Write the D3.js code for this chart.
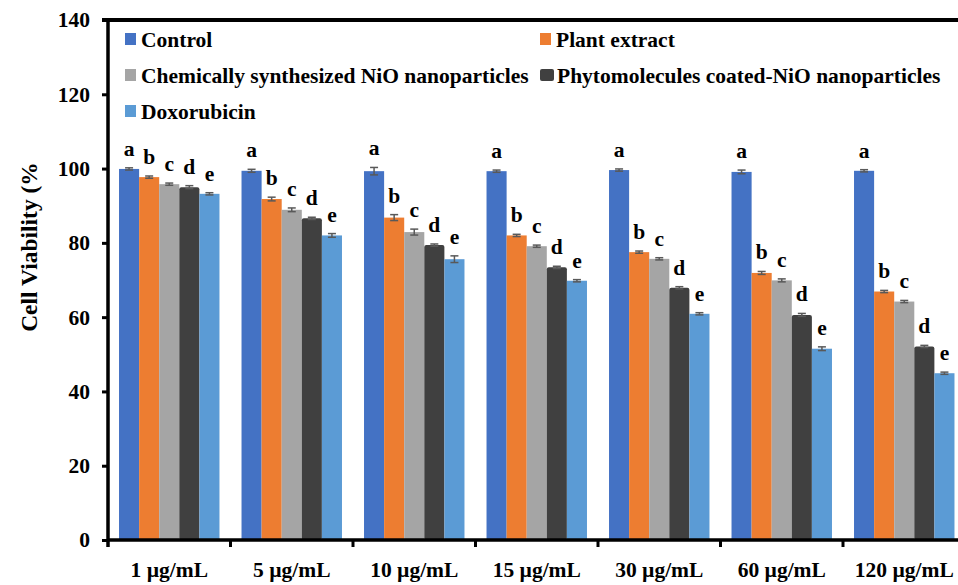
<!DOCTYPE html>
<html>
<head>
<meta charset="utf-8">
<script src="https://cdn.jsdelivr.net/npm/d3@7"></script>
<style>
  body { margin: 0; background: #fff; }
  svg { display: block; }
  text { font-family: "Liberation Serif", "Times New Roman", serif; font-weight: bold; fill: #000; }
</style>
</head>
<body>
<div id="chart"></div>
<script>
const categories = ['1 µg/mL', '5 µg/mL', '10 µg/mL', '15 µg/mL', '30 µg/mL', '60 µg/mL', '120 µg/mL'];
const seriesNames = ['Control', 'Plant extract', 'Chemically synthesized NiO nanoparticles',
  'Phytomolecules coated-NiO nanoparticles', 'Doxorubicin'];
const colors = ['#4472C4', '#ED7D31', '#A5A5A5', '#404040', '#5B9BD5'];
const letters = ['a', 'b', 'c', 'd', 'e'];

// mean viability per series, one value per concentration
const control = [99.9, 99.4, 99.3, 99.3, 99.6, 99.1, 99.4];
const plantExtract = [97.7, 91.8, 86.8, 82.0, 77.5, 71.9, 66.9];
const chemNiO = [95.8, 88.9, 82.9, 79.1, 75.7, 69.9, 64.2];
const phytoNiO = [95.0, 86.6, 79.4, 73.4, 67.9, 60.6, 52.1];
const doxorubicin = [93.2, 82.0, 75.6, 69.8, 60.9, 51.5, 44.9];

// standard deviations
const controlErr = [0.3, 0.4, 1.0, 0.3, 0.3, 0.5, 0.3];
const plantErr = [0.3, 0.5, 0.8, 0.3, 0.3, 0.4, 0.3];
const chemErr = [0.3, 0.5, 0.8, 0.3, 0.3, 0.4, 0.3];
const phytoErr = [0.4, 0.3, 0.3, 0.3, 0.3, 0.4, 0.3];
const doxErr = [0.3, 0.5, 0.9, 0.3, 0.3, 0.5, 0.3];

const yTicks = [0, 20, 40, 60, 80, 100, 120, 140];

const values = [control, plantExtract, chemNiO, phytoNiO, doxorubicin];
const errors = [controlErr, plantErr, chemErr, phytoErr, doxErr];

const width = 958;
const height = 585;
const left = 108;
const step = 122.5;

const svg = d3.select('#chart').append('svg')
  .attr('width', width)
  .attr('height', height);

const x0 = d3.scaleBand()
  .domain(categories)
  .range([left, left + step * categories.length])
  .paddingInner(0.18)
  .paddingOuter(0.09);

const x1 = d3.scaleBand()
  .domain(seriesNames)
  .range([0, x0.bandwidth()]);

const y = d3.scaleLinear()
  .domain([0, 140])
  .range([540, 20]);

// flatten into one record per bar
const rows = [];
categories.forEach((cat, i) => {
  seriesNames.forEach((s, j) => {
    rows.push({ cat, s, j, v: values[j][i], e: errors[j][i] });
  });
});

// Bars
svg.append('g')
  .selectAll('rect')
  .data(rows)
  .join('rect')
  .attr('x', d => x0(d.cat) + x1(d.s))
  .attr('y', d => y(d.v))
  .attr('width', x1.bandwidth())
  .attr('height', d => y(0) - y(d.v))
  .attr('rx', d => d.j === 3 ? 2 : 0)
  .attr('fill', d => colors[d.j]);

// Error bars
const eb = svg.append('g')
  .attr('stroke', '#595959')
  .attr('stroke-width', 1.5)
  .selectAll('g')
  .data(rows)
  .join('g')
  .attr('transform', d => `translate(${x0(d.cat) + x1(d.s) + x1.bandwidth() / 2},0)`);

eb.append('line')
  .attr('y1', d => y(d.v - d.e))
  .attr('y2', d => y(d.v + d.e));
eb.append('line')
  .attr('x1', -4).attr('x2', 4)
  .attr('y1', d => y(d.v + d.e))
  .attr('y2', d => y(d.v + d.e));
eb.append('line')
  .attr('x1', -4).attr('x2', 4)
  .attr('y1', d => y(d.v - d.e))
  .attr('y2', d => y(d.v - d.e));

// Significance letters
svg.append('g')
  .selectAll('text')
  .data(rows)
  .join('text')
  .attr('x', d => x0(d.cat) + x1(d.s) + x1.bandwidth() / 2)
  .attr('y', d => y(d.v + d.e) - 12)
  .attr('text-anchor', 'middle')
  .style('font-size', '21.5px')
  .text(d => letters[d.j]);

// Y axis
const yAxis = svg.append('g')
  .attr('transform', `translate(${left},0)`)
  .call(d3.axisLeft(y).tickValues(yTicks).tickSize(6).tickPadding(12).tickSizeOuter(0));
yAxis.select('.domain').remove();
yAxis.selectAll('.tick line').attr('stroke', '#000').attr('stroke-width', 3);
yAxis.selectAll('.tick text')
  .style('font-size', '21.5px')
  .style('font-family', '"Liberation Serif", "Times New Roman", serif');

svg.append('line')
  .attr('x1', left).attr('x2', left)
  .attr('y1', y(140) - 2).attr('y2', y(0) + 7)
  .attr('stroke', '#000').attr('stroke-width', 3.5);

// Top frame line
svg.append('line')
  .attr('x1', left - 6).attr('x2', width)
  .attr('y1', y(140)).attr('y2', y(140))
  .attr('stroke', '#000').attr('stroke-width', 4);

// X axis
const xAxis = svg.append('g')
  .attr('transform', `translate(0,${y(0)})`)
  .call(d3.axisBottom(x0).tickSize(0).tickSizeOuter(0));
xAxis.select('.domain').remove();
xAxis.selectAll('.tick text')
  .attr('y', 37)
  .attr('dy', 0)
  .style('font-size', '21.5px')
  .style('font-family', '"Liberation Serif", "Times New Roman", serif');

svg.append('line')
  .attr('x1', left).attr('x2', width)
  .attr('y1', y(0)).attr('y2', y(0))
  .attr('stroke', '#000').attr('stroke-width', 3.5);

// boundary ticks between categories
svg.append('g')
  .selectAll('line')
  .data(categories.slice(1))
  .join('line')
  .attr('x1', d => x0(d) - x0.step() * x0.paddingInner() / 2)
  .attr('x2', d => x0(d) - x0.step() * x0.paddingInner() / 2)
  .attr('y1', y(0))
  .attr('y2', y(0) + 7)
  .attr('stroke', '#000')
  .attr('stroke-width', 3);

// Y axis title
svg.append('text')
  .attr('transform', 'translate(37,247) rotate(-90)')
  .attr('text-anchor', 'middle')
  .style('font-size', '23.5px')
  .text('Cell Viability (%');

// Legend
const legendPos = [
  { x: 125, y: 39 }, { x: 540, y: 39 },
  { x: 125, y: 75 }, { x: 540, y: 75 },
  { x: 125, y: 111 }
];
const legend = svg.append('g')
  .selectAll('g')
  .data(seriesNames)
  .join('g')
  .attr('transform', (d, i) => `translate(${legendPos[i].x},${legendPos[i].y})`);

legend.append('rect')
  .attr('x', 0)
  .attr('y', -6)
  .attr('width', (d, i) => i === 3 ? 14 : 11)
  .attr('height', 12)
  .attr('rx', (d, i) => i === 3 ? 2 : 0)
  .attr('fill', (d, i) => colors[i]);

legend.append('text')
  .attr('x', (d, i) => i === 3 ? 17 : 16)
  .attr('y', 7.5)
  .style('font-size', '21.5px')
  .text(d => d);
</script>
</body>
</html>
